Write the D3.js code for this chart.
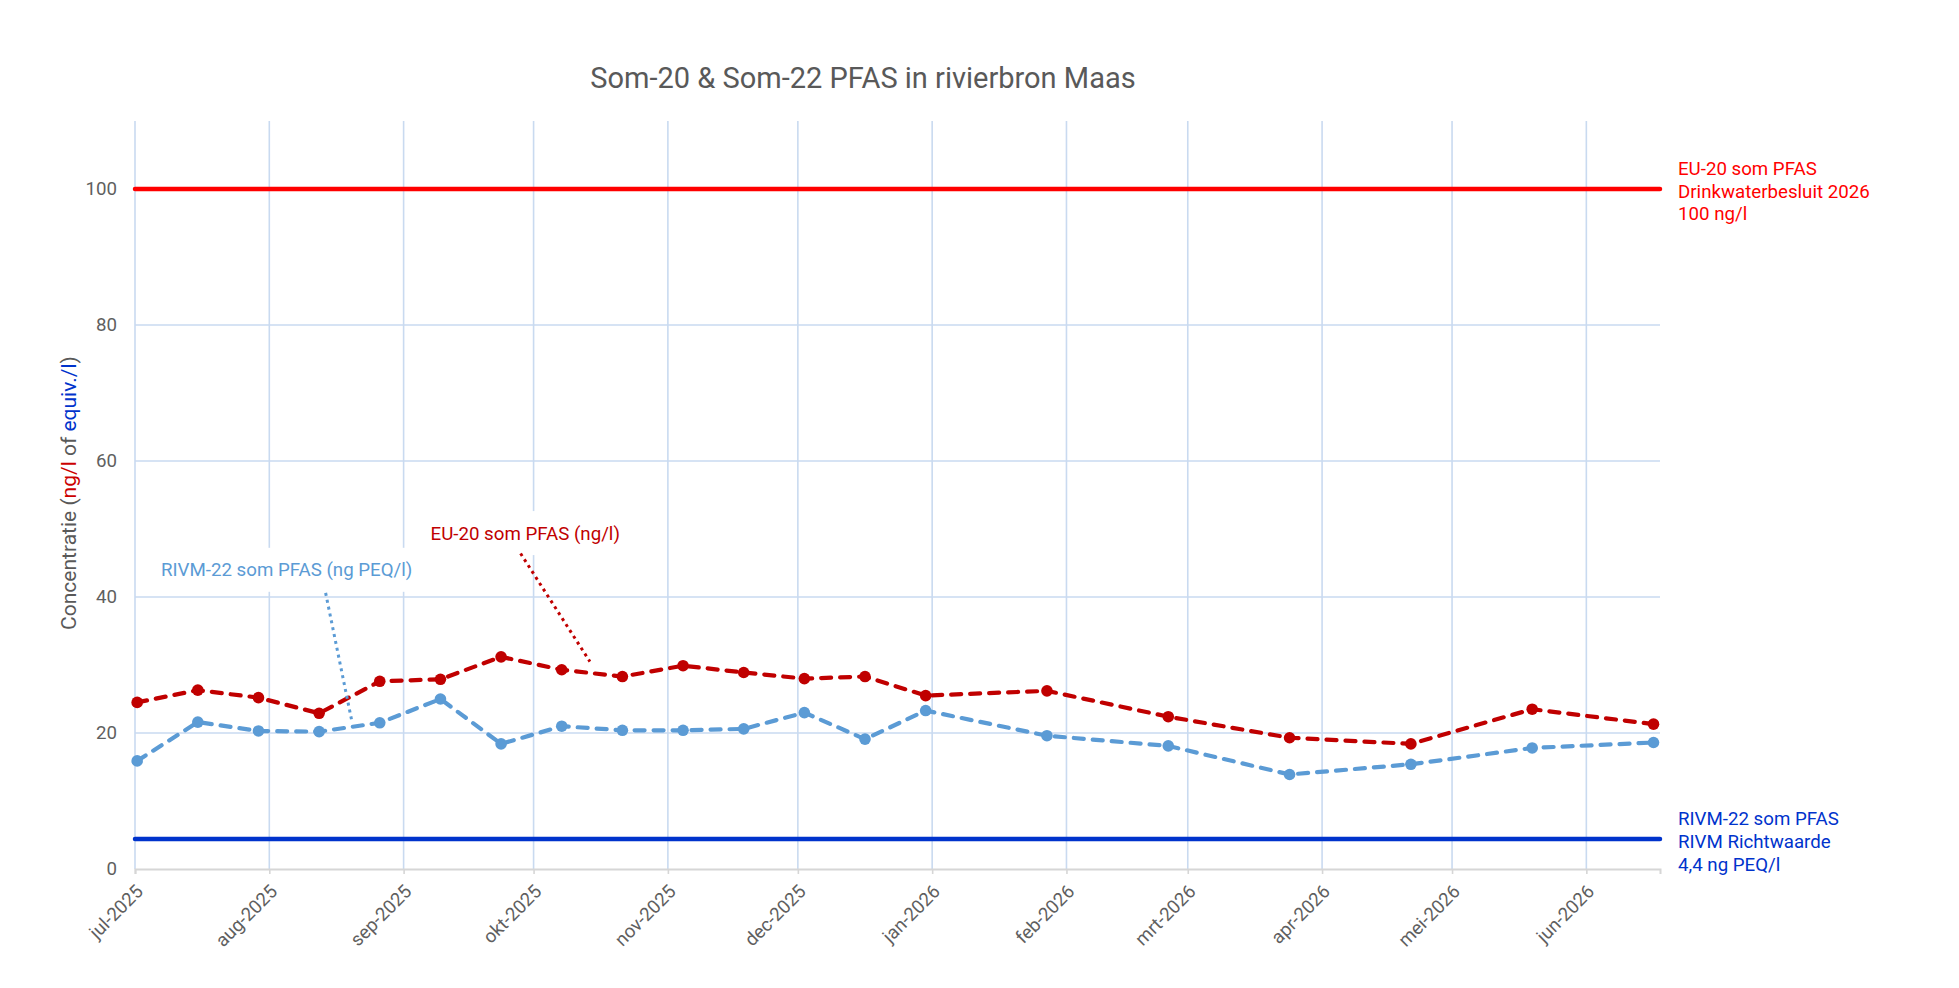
<!DOCTYPE html>
<html>
<head>
<meta charset="utf-8">
<script src="https://cdn.jsdelivr.net/npm/d3@7"></script>
<style>
  body { margin: 0; background: #fff; }
  text { font-family: Roboto, sans-serif; }
</style>
</head>
<body>
<div id="chart"></div>
<script>
// Sample dates (biweekly measurements)
const sampleDates = ["2025-07-01", "2025-07-15", "2025-07-29", "2025-08-12", "2025-08-26",
  "2025-09-09", "2025-09-23", "2025-10-07", "2025-10-21", "2025-11-04", "2025-11-18",
  "2025-12-02", "2025-12-16", "2025-12-30", "2026-01-27", "2026-02-24", "2026-03-24",
  "2026-04-21", "2026-05-19", "2026-06-16"];

// EU-20 som PFAS (ng/l)
const eu20 = [24.5, 26.3, 25.2, 22.9, 27.6, 27.9, 31.2, 29.3, 28.3, 29.9, 28.9,
  28.0, 28.3, 25.5, 26.2, 22.4, 19.3, 18.4, 23.5, 21.3];

// RIVM-22 som PFAS (ng PEQ/l)
const rivm22 = [15.9, 21.6, 20.3, 20.2, 21.5, 25.0, 18.4, 21.0, 20.4, 20.4, 20.6,
  23.0, 19.1, 23.3, 19.6, 18.1, 13.9, 15.4, 17.8, 18.6];

const seriesNames = ["EU-20 som PFAS (ng/l)", "RIVM-22 som PFAS (ng PEQ/l)"];
const monthLabels = ["jan", "feb", "mrt", "apr", "mei", "jun", "jul", "aug", "sep", "okt", "nov", "dec"];
const yTicks = [0, 20, 40, 60, 80, 100];
const limitValues = [100, 4.4];
const limitLabels = [
  ["EU-20 som PFAS", "Drinkwaterbesluit 2026", "100 ng/l"],
  ["RIVM-22 som PFAS", "RIVM Richtwaarde", "4,4 ng PEQ/l"]
];

// Set the dimensions and margins of the graph
const W = 1959, H = 988;
const margin = { top: 121, right: 299, bottom: 119, left: 135 },
      width = W - margin.left - margin.right,
      height = H - margin.top - margin.bottom;

const parseTime = d3.timeParse("%Y-%m-%d");
// samples are plotted at midday of their date
const data = sampleDates.map((d, i) => ({
  date: d3.timeHour.offset(parseTime(d), 12), eu: eu20[i], rivm: rivm22[i]
}));

const svg = d3.select("#chart")
    .append("svg")
    .attr("width", W)
    .attr("height", H);

const g = svg.append("g")
    .attr("transform", `translate(${margin.left},${margin.top})`);

// Layers, bottom to top
const gridLayer = g.append("g");
const axisLayer = g.append("g");
const boxLayer = g.append("g");
const limitLayer = g.append("g");
const lineLayer = g.append("g");
const connectorLayer = g.append("g");
const markerLayer = g.append("g");
const labelLayer = g.append("g");

// Scales
const x = d3.scaleTime()
    .domain([parseTime("2025-07-01"), parseTime("2026-06-18")])
    .range([0, width]);

const y = d3.scaleLinear()
    .domain([0, 110])
    .range([height, 0]);

const months = d3.timeMonth.range(parseTime("2025-07-01"), parseTime("2026-06-18"));
const fmtMonth = d => monthLabels[d.getMonth()] + "-" + d.getFullYear();

// Title
svg.append("text")
    .attr("x", 863)
    .attr("y", 88)
    .attr("text-anchor", "middle")
    .attr("font-size", 29)
    .attr("fill", "#595959")
    .text("Som-20 & Som-22 PFAS in rivierbron Maas");

// Gridlines
gridLayer.append("g")
    .selectAll("line")
    .data(yTicks.filter(d => d > 0))
    .enter().append("line")
    .attr("x1", 0).attr("x2", width)
    .attr("y1", d => y(d)).attr("y2", d => y(d))
    .attr("stroke", "#c9daf0")
    .attr("stroke-width", 1.6);

gridLayer.append("g")
    .selectAll("line")
    .data(months)
    .enter().append("line")
    .attr("x1", d => x(d)).attr("x2", d => x(d))
    .attr("y1", 0).attr("y2", height)
    .attr("stroke", "#c9daf0")
    .attr("stroke-width", 1.6);

// X axis (baseline + ticks + rotated labels)
const xAxis = axisLayer.append("g")
    .attr("transform", `translate(0,${height})`)
    .call(d3.axisBottom(x).tickValues(months).tickSize(5).tickFormat(fmtMonth));
xAxis.select(".domain").attr("stroke", "#d6d6d6").attr("stroke-width", 2);
xAxis.selectAll(".tick line").attr("stroke", "#d6d6d6").attr("stroke-width", 1.6);
xAxis.selectAll(".tick text")
    .attr("font-family", "Roboto, sans-serif")
    .attr("font-size", 18.7)
    .attr("fill", "#5f5f5f")
    .attr("text-anchor", "end")
    .attr("dy", "0.35em")
    .attr("transform", "translate(4,19) rotate(-45)")
    .attr("y", 0);

// Y axis labels
const yAxis = axisLayer.append("g")
    .call(d3.axisLeft(y).tickValues(yTicks).tickSize(0).tickPadding(18));
yAxis.select(".domain").remove();
yAxis.selectAll(".tick text")
    .attr("font-family", "Roboto, sans-serif")
    .attr("font-size", 18.7)
    .attr("fill", "#5f5f5f");

// Y axis title with coloured parts
const yTitle = svg.append("text")
    .attr("transform", "translate(69,493) rotate(-90)")
    .attr("text-anchor", "middle")
    .attr("dy", "0.35em")
    .attr("font-family", "'Liberation Sans', Arial, sans-serif")
    .attr("font-size", 21)
    .attr("fill", "#595959");
yTitle.append("tspan").text("Concentratie (");
yTitle.append("tspan").attr("fill", "#cc0000").text("ng/l");
yTitle.append("tspan").text(" of ");
yTitle.append("tspan").attr("fill", "#0033cc").text("equiv./l");
yTitle.append("tspan").text(")");

// Annotation labels with white boxes behind them
const annotations = [
  { text: seriesNames[0], color: "#c00000", date: "2025-09-28", value: 49.4,
    from: ["2025-09-28", 46.4], to: ["2025-10-14", 30.5] },
  { text: seriesNames[1], color: "#5b9bd5", date: "2025-07-07", value: 44.0,
    from: ["2025-08-14", 40.6], to: ["2025-08-20", 21.9] }
];

annotations.forEach((a, i) => {
  const t = labelLayer.append("text")
      .attr("x", x(parseTime(a.date)) + (i === 0 ? -90 : 0))
      .attr("y", y(a.value))
      .attr("dy", "0.35em")
      .attr("font-size", 18.7)
      .attr("fill", a.color)
      .text(a.text);
  const bb = t.node().getBBox();
  boxLayer.append("rect")
      .attr("x", bb.x - 10)
      .attr("y", y(a.value) - 22)
      .attr("width", bb.width + 20)
      .attr("height", 44)
      .attr("fill", "#fff");
});

// Limit lines
const limitColors = ["#ff0000", "#0033cc"];
limitValues.forEach((v, i) => {
  limitLayer.append("line")
      .attr("x1", 0).attr("x2", width)
      .attr("y1", y(v)).attr("y2", y(v))
      .attr("stroke", limitColors[i])
      .attr("stroke-width", 4.5)
      .attr("stroke-linecap", "round");

  const lbl = labelLayer.append("text")
      .attr("font-size", 18.7)
      .attr("fill", limitColors[i]);
  limitLabels[i].forEach((s, j) => {
    lbl.append("tspan")
        .attr("x", width + 18)
        .attr("y", y(v) + 2.3 + (j - 1) * 22.6)
        .attr("dy", "0.35em")
        .text(s);
  });
});

// Series lines
const series = [
  { key: "eu", color: "#c00000" },
  { key: "rivm", color: "#5b9bd5" }
];

series.forEach(s => {
  const line = d3.line()
      .x(d => x(d.date))
      .y(d => y(d[s.key]));

  lineLayer.append("path")
      .datum(data)
      .attr("fill", "none")
      .attr("stroke", s.color)
      .attr("stroke-width", 4.2)
      .attr("stroke-dasharray", "10,9")
      .attr("stroke-linecap", "round")
      .attr("d", line);
});

// Dotted connectors from the labels to the lines
annotations.forEach(a => {
  connectorLayer.append("line")
      .attr("x1", x(parseTime(a.from[0]))).attr("y1", y(a.from[1]))
      .attr("x2", x(parseTime(a.to[0]))).attr("y2", y(a.to[1]))
      .attr("stroke", a.color)
      .attr("stroke-width", 3)
      .attr("stroke-dasharray", "3,4");
});

// Markers
series.forEach(s => {
  markerLayer.append("g")
      .selectAll("circle")
      .data(data)
      .enter().append("circle")
      .attr("cx", d => x(d.date))
      .attr("cy", d => y(d[s.key]))
      .attr("r", 5.8)
      .attr("fill", s.color);
});
</script>
</body>
</html>
